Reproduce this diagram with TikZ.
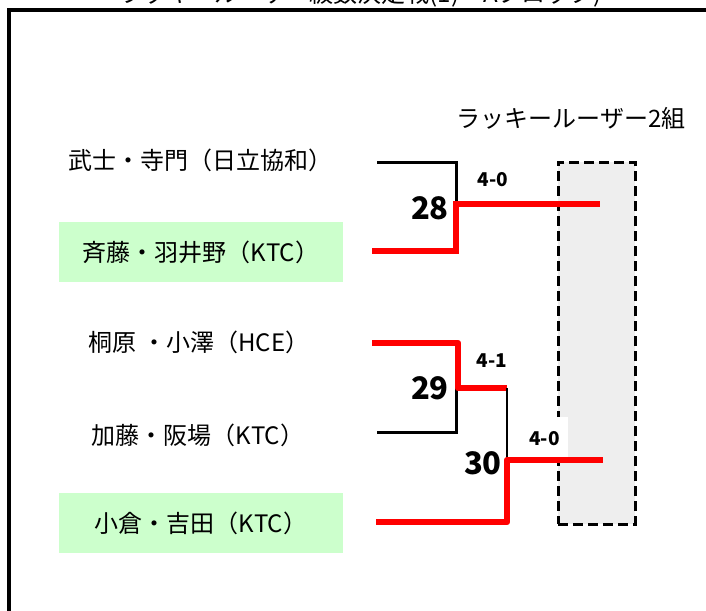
\documentclass[tikz,border=0pt]{standalone}
\usepackage{fontspec}
\setmainfont{Noto Sans CJK JP}
\definecolor{wingreen}{HTML}{CCFFCC}
\definecolor{boxgray}{HTML}{EEEEEE}
\begin{document}
\begin{tikzpicture}[x=1pt,y=-1pt,
  team/.style={font=\fontsize{24}{27}\selectfont, inner sep=0pt},
  winbox/.style={team, fill=wingreen, minimum width=284pt, minimum height=60pt},
  matchno/.style={font=\fontsize{31}{34}\selectfont\bfseries, inner sep=0pt, anchor=east},
  score/.style={font=\fontsize{19}{22}\selectfont\bfseries, inner sep=0pt},
  loser/.style={line width=3pt, black},
  winner/.style={line width=6.5pt, red},
  thinline/.style={line width=1.6pt, black}]
\useasboundingbox (0,0) rectangle (706,610);
% title (cut off by page edge, as in the reference)
\node[font=\fontsize{24}{26}\selectfont, inner sep=0pt] (title) at (360,-5) {ラッキールーザー級数決定戦(1)ーAブロック)};
% frame
\draw[line width=4pt] (9,630) -- (9,10) -- (730,10);
% lucky loser box
\node[draw, fill=boxgray, line width=3pt, dash pattern=on 10pt off 5pt,
  minimum width=77pt, minimum height=362pt, inner sep=0pt] (ll) at (596.5,343) {};
\node[team] (lltitle) at (571,118) {ラッキールーザー2組};
% teams
\node[team] (p1) at (200,160) {武士・寺門（日立協和）};
\node[winbox] (p2) at (201,252) {斉藤・羽井野（KTC）};
\node[team] (p3) at (199,342) {桐原 ・小澤（HCE）};
\node[team] (p4) at (198,435) {加藤・阪場（KTC）};
\node[winbox] (p5) at (201,523) {小倉・吉田（KTC）};
% bracket coordinates
\coordinate (a1) at (377,162);
\coordinate (a2) at (456,162);
\coordinate (a3) at (456,204);
\coordinate (b1) at (372,251);
\coordinate (b2) at (456,251);
\coordinate (w28) at (600,204);
\coordinate (c1) at (372,343);
\coordinate (c2) at (458,343);
\coordinate (c3) at (458,388);
\coordinate (c4) at (507,388);
\coordinate (d1) at (377,432);
\coordinate (d2) at (456,432);
\coordinate (d3) at (456,388);
\coordinate (e1) at (376,522);
\coordinate (e2) at (507,522);
\coordinate (e3) at (507,460);
\coordinate (w30) at (603,460);
% match 28
\draw[loser] (a1) -- (a2) -- (a3);
\draw[winner, line join=miter] (b1) -- (b2) -- (a3) -- (w28);
\node[matchno] (m28) at (449,208) {28};
\node[score] (s28) at (493,180) {4-0};
% match 29
\draw[loser] (d1) -- (d2) -- (d3);
\draw[winner, line join=round] (c1) -- (c2) -- (c3) -- (c4);
\node[matchno] (m29) at (449,388) {29};
\node[score] (s29) at (492,361) {4-1};
% match 30
\draw[thinline] (c4) -- (e3);
\node[score, fill=white, minimum width=46pt, minimum height=44pt] (s30) at (544.5,439) {4-0};
\draw[winner, line join=round] (e1) -- (e2) -- (e3) -- (w30);
\node[matchno] (m30) at (502,463) {30};
\end{tikzpicture}
\end{document}
